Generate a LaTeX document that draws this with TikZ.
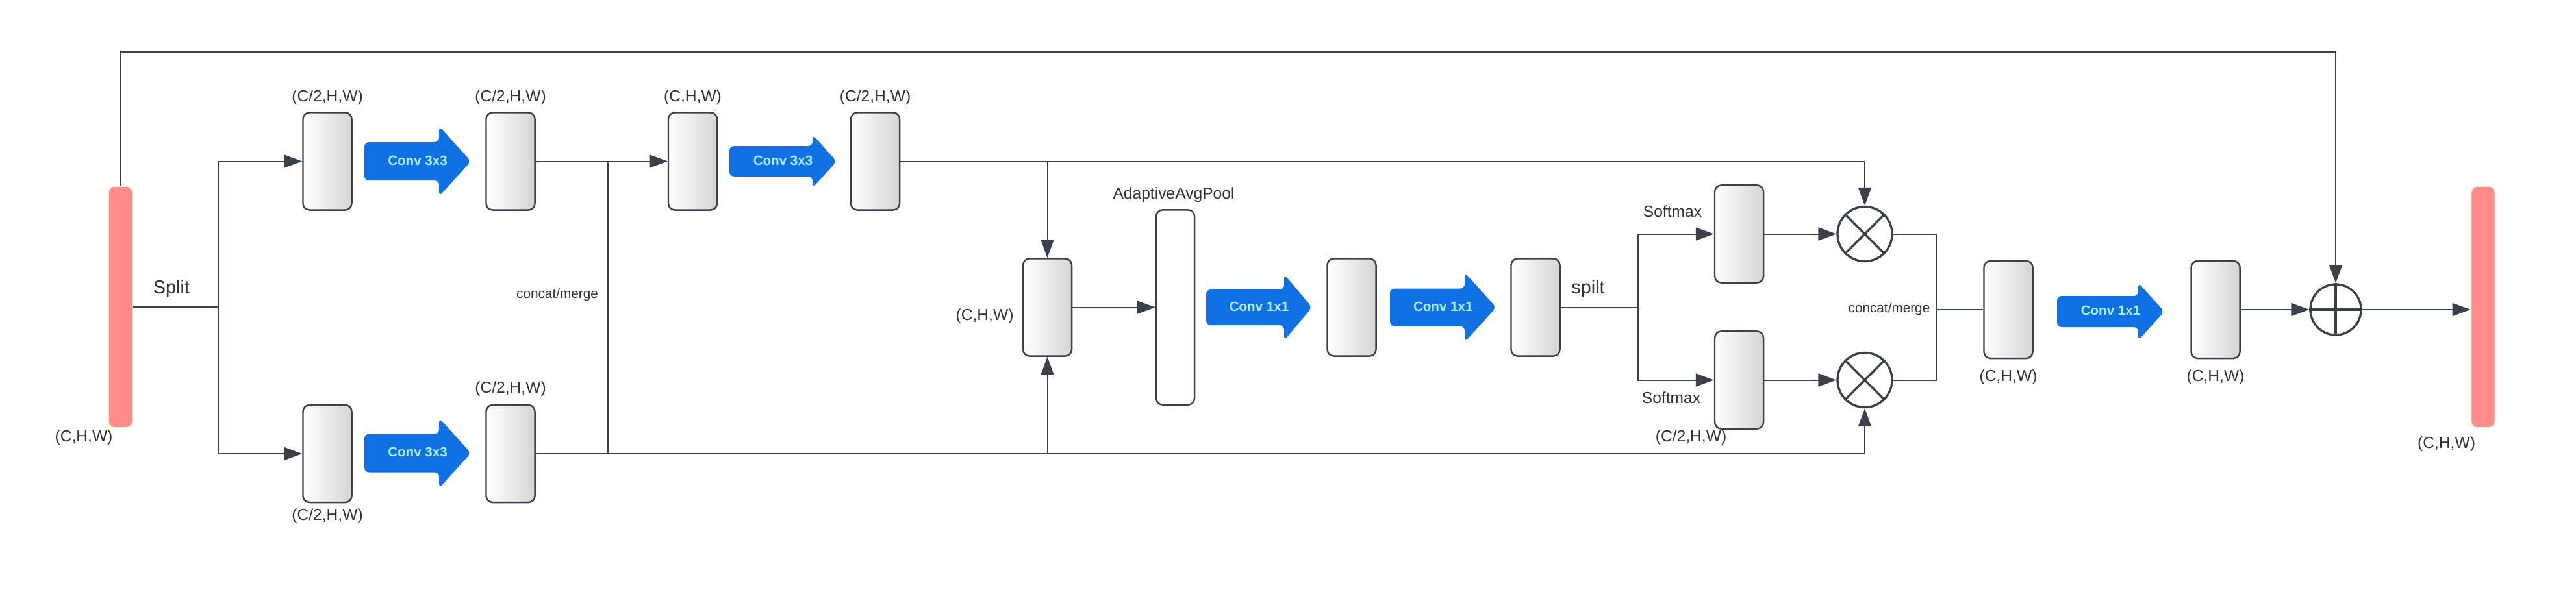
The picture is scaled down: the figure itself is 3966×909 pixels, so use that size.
\documentclass[tikz,border=0pt]{standalone}
\usepackage{fontspec}
\setmainfont{Liberation Sans}
\usetikzlibrary{arrows.meta}
\definecolor{linec}{RGB}{58,65,74}
\definecolor{txtc}{RGB}{51,51,51}
\definecolor{convblue}{RGB}{16,113,229}
\definecolor{convtxt}{RGB}{175,240,248}
\definecolor{pinkc}{RGB}{255,140,138}
\definecolor{pinkb}{RGB}{222,245,218}
\definecolor{boxgray}{RGB}{213,213,213}
\newcommand{\convarrow}[8]{%
  \fill[convblue,rounded corners=0.07cm] (#2,{#5-#6}) -- (#4,{#5-#6}) -- (#4,{#5-#7}) -- (#3,#5) -- (#4,{#5+#7}) -- (#4,{#5+#6}) -- (#2,{#5+#6}) -- cycle;
  \node[convtext] (#1) at ({(#2+#3)/2},{#5-1.5}) {#8};}
\begin{document}
\begin{tikzpicture}[x=0.01cm,y=-0.01cm,
  conn/.style={draw=linec,line width=0.57pt},
  arr/.style={conn,-{Triangle[length=0.28cm,width=0.2cm]}},
  thinl/.style={draw=linec,line width=0.3pt},
  gbox/.style={draw=linec,line width=0.7pt,rounded corners=0.1cm,left color=white,right color=boxgray,minimum width=0.75cm,minimum height=1.5cm,inner sep=0pt},
  poolbox/.style={draw=linec,line width=0.7pt,rounded corners=0.1cm,fill=white,minimum width=0.59cm,minimum height=3.0cm,inner sep=0pt},
  pinkbar/.style={draw=pinkb,line width=0.5pt,fill=pinkc,rounded corners=0.1cm,minimum width=0.37cm,minimum height=3.72cm,inner sep=0pt},
  opc/.style={circle,draw=linec,line width=0.95pt,inner sep=0pt,fill=white},
  lbl/.style={text=txtc,font=\fontsize{7}{8}\selectfont,inner sep=0pt},
  biglbl/.style={text=txtc,font=\fontsize{8.2}{9}\selectfont,inner sep=0pt},
  smlbl/.style={text=txtc,font=\fontsize{5.9}{7}\selectfont,inner sep=0pt},
  convtext/.style={text=convtxt,font=\bfseries\fontsize{5.85}{7}\selectfont,inner sep=0pt},
]
\fill[white] (0,0) rectangle (3966,909);
\useasboundingbox (0,0) rectangle (3966,909);

% input / output tensors
\node[pinkbar] (inL) at (185.5,473) {};
\node[pinkbar] (outR) at (3823,473) {};

% boxes
\node[gbox] (b1) at (504,248.5) {};
\node[gbox] (b2) at (786,248.5) {};
\node[gbox] (b3) at (504,699) {};
\node[gbox] (b4) at (786,699) {};
\node[gbox] (b5) at (1066.5,248.5) {};
\node[gbox] (b6) at (1347.5,248.5) {};
\node[gbox] (b7) at (1612.5,473.5) {};
\node[poolbox] (pool) at (1809.5,473.5) {};
\node[gbox] (b8) at (2081,473.5) {};
\node[gbox] (b9) at (2364,473.5) {};
\node[gbox] (s1) at (2677.5,360.5) {};
\node[gbox] (s2) at (2677.5,585.5) {};
\node[gbox] (b10) at (3092,477) {};
\node[gbox] (b11) at (3411,477) {};

% operators
\node[opc,minimum size=0.84cm] (m1) at (2871,360.5) {};
\node[opc,minimum size=0.84cm] (m2) at (2871,585.5) {};
\node[opc,minimum size=0.78cm] (plus) at (3596,477) {};
\draw[linec,line width=0.95pt] (m1.north east) -- (m1.south west) (m1.north west) -- (m1.south east);
\draw[linec,line width=0.95pt] (m2.north east) -- (m2.south west) (m2.north west) -- (m2.south east);
\draw[linec,line width=0.95pt] (plus.north) -- (plus.south) (plus.west) -- (plus.east);

% conv arrows
\convarrow{c1}{561}{725}{676}{248.5}{29.5}{54}{Conv 3x3}
\convarrow{c2}{561}{725}{676}{698}{29.5}{54}{Conv 3x3}
\convarrow{c3}{1123}{1288}{1251}{248.5}{23.3}{41}{Conv 3x3}
\convarrow{c4}{1857}{2020}{1977}{473.5}{27.5}{51}{Conv 1x1}
\convarrow{c5}{2140}{2303.5}{2255}{473.5}{29}{53.5}{Conv 1x1}
\convarrow{c6}{3167}{3332}{3292}{480}{24}{44.5}{Conv 1x1}

% helper coordinates
\coordinate (topy) at (0,79.5);
\coordinate (sp) at (335.5,473);
\coordinate (cmx) at (936,0);
\coordinate (sp2) at (2522,473.5);
\coordinate (mg) at (2980.5,477);

% connectors
\draw[arr] (inL.north) |- (topy -| plus) -- (plus.north);
\draw[conn] (inL.east) -- (sp);
\draw[arr] (sp) |- (b1.west);
\draw[arr] (sp) |- (b3.west);
\draw[arr] (b2.east) -- (b5.west);
\draw[thinl] (b2.east -| cmx) -- (b4.east -| cmx);
\draw[arr] (b6.east) -| (m1.north);
\draw[arr] (b6.east -| b7.north) -- (b7.north);
\draw[arr] (b4.east) -| (m2.south);
\draw[arr] (b4.east -| b7.south) -- (b7.south);
\draw[arr] (b7.east) -- (pool.west);
\draw[conn] (b9.east) -- (sp2);
\draw[arr] (sp2) |- (s1.west);
\draw[arr] (sp2) |- (s2.west);
\draw[arr] (s1.east) -- (m1.west);
\draw[arr] (s2.east) -- (m2.west);
\draw[conn] (m1.east) -| (mg) |- (m2.east);
\draw[conn] (mg) -- (b10.west);
\draw[arr] (b11.east) -- (plus.west);
\draw[arr] (plus.east) -- (plus.east -| outR.west);

% labels
\node[lbl] (t1) at (129,674) {(C,H,W)};
\node[biglbl] (t2) at (264,445) {Split};
\node[lbl] (t3) at (504,150) {(C/2,H,W)};
\node[lbl] (t4) at (786,150) {(C/2,H,W)};
\node[lbl] (t5) at (504,795) {(C/2,H,W)};
\node[lbl] (t6) at (786,599) {(C/2,H,W)};
\node[smlbl] (t7) at (858,454) {concat/merge};
\node[lbl] (t8) at (1066.5,150) {(C,H,W)};
\node[lbl] (t9) at (1347.5,150) {(C/2,H,W)};
\node[lbl] (t10) at (1516,487) {(C,H,W)};
\node[lbl] (t11) at (1807,300) {AdaptiveAvgPool};
\node[biglbl] (t12) at (2445,445) {spilt};
\node[lbl] (t13) at (2575,326) {Softmax};
\node[lbl] (t14) at (2573,613) {Softmax};
\node[lbl] (t15) at (2603.5,674) {(C/2,H,W)};
\node[smlbl,anchor=east] (t16) at (2972,476.5) {concat/merge};
\node[lbl] (t17) at (3092,581) {(C,H,W)};
\node[lbl] (t18) at (3411,581) {(C,H,W)};
\node[lbl] (t19) at (3766.5,684.5) {(C,H,W)};
\end{tikzpicture}
\end{document}
